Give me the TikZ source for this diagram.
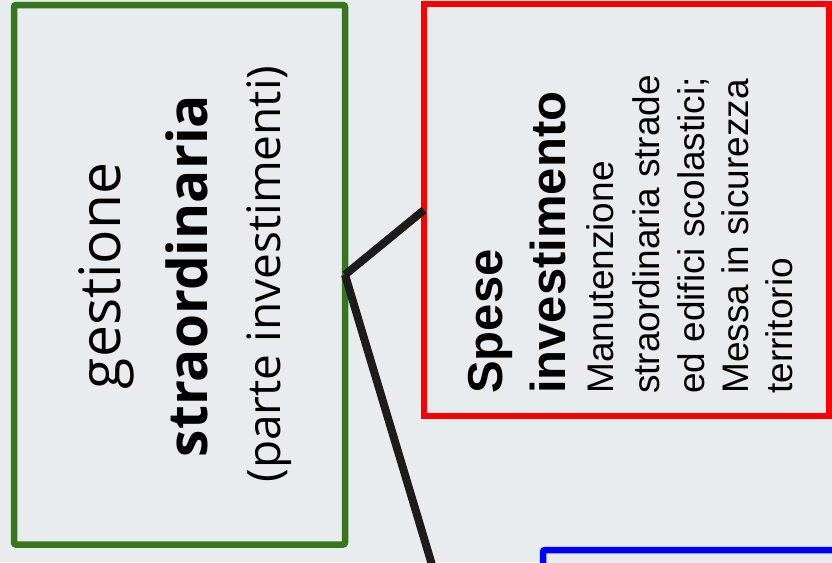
\documentclass[tikz,border=0pt]{standalone}
\usepackage{fontspec}
\newfontfamily\osans{Open Sans}
\newfontfamily\arialf{Liberation Sans}
\definecolor{bgc}{HTML}{E9ECEE}
\definecolor{greenc}{HTML}{38761D}
\definecolor{redc}{HTML}{FF0000}
\definecolor{bluec}{HTML}{0000FF}
\definecolor{connc}{HTML}{1C1C1C}
\tikzset{
  boxbase/.style={draw, fill=bgc, rectangle, line width=6.5pt, inner sep=0pt, outer sep=0pt},
  gbox/.style={boxbase, draw=greenc, rounded corners=2pt},
  rbox/.style={boxbase, draw=redc},
  bluebox/.style={boxbase, draw=bluec, rounded corners=2pt},
  conn/.style={draw=connc, line width=8pt},
  gtxt/.style={inner sep=0pt, rotate=90, anchor=base, font=\osans},
  rtxt/.style={inner sep=0pt, rotate=90, anchor=base west, font=\arialf},
}
\begin{document}
\begin{tikzpicture}[x=1pt,y=-1pt]
\useasboundingbox (0,0) rectangle (832,562);
\clip (0,0) rectangle (832,562);
\fill[bgc] (0,0) rectangle (832,562);

\node[gbox, minimum width=331pt, minimum height=539.5pt] (green) at (179.5,274.75) {};
\node[rbox, minimum width=405pt, minimum height=412pt] (red) at (626.5,210) {};
\node[bluebox, minimum width=514pt, minimum height=770pt] (blue) at (800,935) {};

\draw[conn] (green.east) -- (red.west);
\draw[conn] (green.east) -- (blue.west);

\node[gtxt] (g1) at (120,276) {\fontsize{57}{68}\selectfont gestione};
\node[gtxt] (g2) at (207,276) {\fontsize{55}{66}\selectfont\bfseries straordinaria};
\node[gtxt] (g3) at (280,274) {\fontsize{46}{55}\selectfont (parte investimenti)};

\node[rtxt] (r1) at (502,394) {\fontsize{49}{58}\selectfont\bfseries Spese};
\node[rtxt] (r2) at (565,394) {\fontsize{49}{58}\selectfont\bfseries investimento};
\node[rtxt] (r3) at (613,394) {\fontsize{37}{44}\selectfont Manutenzione};
\node[rtxt] (r4) at (659,394) {\fontsize{37}{44}\selectfont straordinaria strade};
\node[rtxt] (r5) at (704,394) {\fontsize{37}{44}\selectfont ed edifici scolastici;};
\node[rtxt] (r6) at (748,394) {\fontsize{37}{44}\selectfont Messa in sicurezza};
\node[rtxt] (r7) at (792,394) {\fontsize{37}{44}\selectfont territorio};
\end{tikzpicture}
\end{document}
